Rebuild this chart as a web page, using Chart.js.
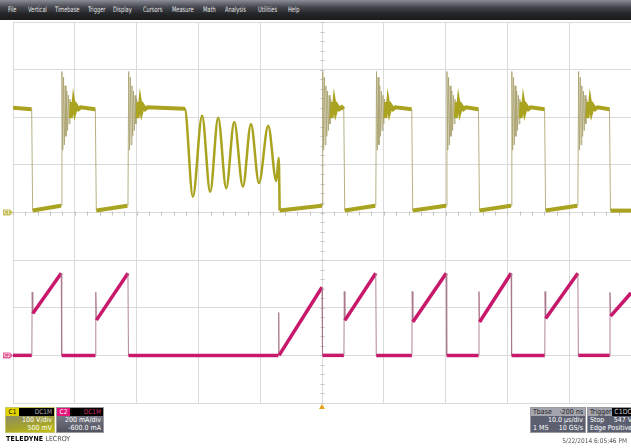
<!DOCTYPE html>
<html lang="en">
<head>
<meta charset="UTF-8">
<title>Scope capture</title>
<style>
  html, body { margin: 0; padding: 0; background: #fff; }
  body {
    position: relative; width: 631px; height: 448px; overflow: hidden;
    font-family: "DejaVu Sans Condensed", "Liberation Sans Narrow", sans-serif;
  }
  #wrap { position: absolute; left: 0; top: 0; width: 631px; height: 448px; }
  /* menu bar */
  .menu {
    position: absolute; left: 0; top: 0; width: 631px; height: 20px;
    background: linear-gradient(#8a8d95, #45484f 35%, #232427 70%, #1b1b1d);
  }
  .menu span {
    position: absolute; top: 5px; font-size: 7.5px; color: #e4e4e4;
    transform: scaleX(0.75); transform-origin: left center; white-space: nowrap;
  }
  /* channel / timebase boxes */
  .box {
    position: absolute; top: 407px; height: 26px; box-sizing: border-box;
    border: 1px solid #9a9aa0; font-size: 7px; line-height: 8px; overflow: hidden;
  }
  .hdr { height: 8px; background: #000; display: flex; }
  .tag { width: 13px; text-align: center; font-size: 6.5px; }
  .cpl { flex: 1; text-align: right; padding-right: 2px; font-size: 6.5px; }
  .body { height: 16px; color: #fff; padding: 0 2px; }
  .row { display: flex; justify-content: space-between; height: 8px; }
  .brand { position: absolute; left: 6px; top: 435px; font-size: 7px; color: #000; }
  .brand b { letter-spacing: 0.2px; }
  .brand span { color: #444; }
  .stamp { position: absolute; right: 4px; top: 437px; font-size: 6.5px; color: #555; }
</style>
<script src="https://cdn.jsdelivr.net/npm/chart.js@4.4.1/dist/chart.umd.min.js"></script>
</head>
<body>
<div id="wrap"><canvas id="scope" width="631" height="448"></canvas></div>

<div class="menu">
  <span style="left:8px">File</span>
  <span style="left:28px">Vertical</span>
  <span style="left:55px">Timebase</span>
  <span style="left:88px">Trigger</span>
  <span style="left:113px">Display</span>
  <span style="left:143px">Cursors</span>
  <span style="left:172px">Measure</span>
  <span style="left:203px">Math</span>
  <span style="left:225px">Analysis</span>
  <span style="left:258px">Utilities</span>
  <span style="left:288px">Help</span>
</div>

<div class="box" style="left:5px;width:50px;border-color:#c9c36a">
  <div class="hdr"><span class="tag" style="background:#e2d400;color:#000">C1</span><span class="cpl" style="color:#b0b0b0">DC1M</span></div>
  <div class="body" style="background:linear-gradient(170deg,#8d8d66,#a4a22e 55%,#c4c214)">
    <div class="row"><span></span><span>100 V/div</span></div>
    <div class="row"><span></span><span>500 mV</span></div>
  </div>
</div>
<div class="box" style="left:56px;width:48px">
  <div class="hdr"><span class="tag" style="background:#e3157c;color:#fff">C2</span><span class="cpl" style="color:#d0306a">DC1M</span></div>
  <div class="body" style="background:linear-gradient(#747684,#50525e)">
    <div class="row"><span></span><span>200 mA/div</span></div>
    <div class="row"><span></span><span>-600.0 mA</span></div>
  </div>
</div>
<div class="brand"><b>TELEDYNE</b> <span>LECROY</span></div>

<div class="box" style="left:530px;width:56px">
  <div class="row" style="background:#a3a4ad;color:#222;padding:0 2px"><span>Tbase</span><span>-200 ns</span></div>
  <div class="body" style="background:#5b5f70">
    <div class="row"><span></span><span>10.0 µs/div</span></div>
    <div class="row"><span>1 MS</span><span>10 GS/s</span></div>
  </div>
</div>
<div class="box" style="left:587px;width:48px">
  <div class="row" style="background:#a3a4ad;color:#222;padding-left:2px"><span>Trigger</span><span style="background:#000;color:#ccc;padding:0 2px">C1DC</span></div>
  <div class="body" style="background:#5b5f70">
    <div class="row"><span>Stop</span><span>547 V</span></div>
    <div class="row"><span>Edge</span><span>Positive</span></div>
  </div>
</div>
<div class="stamp">5/22/2014 6:05:46 PM</div>

<script>
    // screen: 10 µs/div horizontally, trigger at centre
    const timeRange = [-50, 50];
    const ch1Range = [-400, 400];     // C1: 100 V/div
    const ch2Range = [-200, 1400];    // C2: 200 mA/div, offset -600 mA

    // C1 (yellow) switch-node voltage, edges (µs)
    const ch1FallUs = [-46.9, -36.6, 3.6, 14.6, 25.4, 36.1, 46.6];
    const ch1RiseUs = [-42.2, -31.4, 0, 8.7, 20.1, 30.6, 41.4];
    const ch1HighV = [220, 217];      // plateau start / end
    const ch1LowV = [4, 14];          // floor start / end

    // ringing after each rising edge (µs after edge, V)
    const ringDtUs = [0, 0.12, 0.25, 0.38, 0.51, 0.64, 0.77, 0.9, 1.03, 1.16, 1.29, 1.42, 1.55, 1.7, 1.85, 2.0, 2.2, 2.45, 2.8, 3.2];
    const ringV = [14, 296, 131, 284, 142, 266, 160, 255, 172, 246, 186, 238, 198, 232, 206, 228, 212, 224, 217, 221];

    // burst of oscillation in the middle of the record
    const ch1SineUs = [-23.2, -22.2, -20.9, -19.4, -18.1, -16.8, -15.5, -14.2, -12.8, -11.5, -10.2, -8.7, -7.4, -7.0, -6.85];
    const ch1SineV = [219, 218, 33, 203, 43, 199, 51, 190, 54, 186, 62, 182, 66, 115, 4];

    // C2 (magenta) inductor current, one ramp per on-time
    const ch2OnUs = [-46.9, -36.6, 3.6, 14.6, 25.4, 36.1, 46.6];
    const ch2OffUs = [-42.2, -31.4, 8.7, 20.1, 30.6, 41.4, 50];
    const ch2SpikeMa = [265, 265, 268, 268, 268, 268, 264];
    const ch2RampFromMa = [176, 148, 147, 140, 140, 155, 165];
    const ch2RampToMa = [345, 345, 345, 345, 345, 345, 262];
    // soft start of the current after the oscillation burst
    const ch2SoftUs = [-7.05, -7.0, -6.95, 0, 0.08];
    const ch2SoftMa = [0, 180, 0, 286, 0];

    const yellow = '#a9a31f';
    const yellowEdge = 'rgba(170,162,110,0.85)';
    const magenta = '#c8186c';
    const magentaEdge = 'rgba(170,120,140,0.9)';

    function ch1Points() {
        const pts = [{ x: timeRange[0], y: ch1HighV[0] }, { x: timeRange[1], y: ch1LowV[0] }];
        ch1FallUs.forEach(t => {
            pts.push({ x: t - 0.08, y: ch1HighV[1] }, { x: t + 0.08, y: ch1LowV[0] });
        });
        ch1RiseUs.forEach(t => {
            pts.push({ x: t - 0.08, y: ch1LowV[1] });
            ringDtUs.forEach((d, i) => pts.push({ x: t + d + 0.001, y: ringV[i] }));
        });
        // the burst is drawn by its own dataset; leave a gap here
        pts.push({ x: ch1SineUs[1], y: ch1SineV[1] });
        pts.push({ x: ch1SineUs[1] + 0.3, y: null });
        pts.push({ x: ch1SineUs[ch1SineUs.length - 1], y: ch1LowV[0] });
        return pts.sort((a, b) => a.x - b.x);
    }

    function ch2Points() {
        const pts = [{ x: timeRange[0], y: 0 }];
        ch2OnUs.forEach((t, i) => {
            pts.push({ x: t - 0.05, y: 0 }, { x: t, y: ch2SpikeMa[i] },
                     { x: t + 0.1, y: ch2RampFromMa[i] }, { x: ch2OffUs[i], y: ch2RampToMa[i] });
            if (ch2OffUs[i] < timeRange[1]) pts.push({ x: ch2OffUs[i] + 0.08, y: 0 });
        });
        ch2SoftUs.forEach((t, i) => pts.push({ x: t, y: ch2SoftMa[i] }));
        return pts.sort((a, b) => a.x - b.x);
    }

    // near-vertical pieces of the trace are thin and pale like on the scope
    function steep(ctx) {
        const dx = Math.abs(ctx.p1.x - ctx.p0.x), dy = Math.abs(ctx.p1.y - ctx.p0.y);
        return dy > 6 && dy > 20 * dx;
    }

    const scopeDecor = {
        id: 'scopeDecor',
        beforeDatasetsDraw(chart) {
            const { ctx, scales: { x, yV } } = chart;
            const cx = Math.round(x.getPixelForValue(0)) + 0.5;
            const cy = Math.round(yV.getPixelForValue(0)) + 0.5;
            ctx.save();
            ctx.strokeStyle = '#c4c4c4';
            ctx.lineWidth = 1;
            ctx.beginPath();
            for (let t = timeRange[0]; t <= timeRange[1]; t += 2) {
                const px = Math.round(x.getPixelForValue(t)) + 0.5;
                ctx.moveTo(px, cy - 2); ctx.lineTo(px, cy + 2);
            }
            for (let v = ch1Range[0]; v <= ch1Range[1]; v += 20) {
                const py = Math.round(yV.getPixelForValue(v)) + 0.5;
                ctx.moveTo(cx - 2, py); ctx.lineTo(cx + 2, py);
            }
            ctx.stroke();
            ctx.restore();
        },
        afterDatasetsDraw(chart) {
            const { ctx, scales: { x, yV, yI }, chartArea } = chart;
            ctx.save();
            // channel ground markers
            const tagAt = (y, color, label) => {
                ctx.fillStyle = color;
                ctx.beginPath();
                ctx.moveTo(3, y - 3); ctx.lineTo(10, y - 3); ctx.lineTo(13, y); ctx.lineTo(10, y + 3); ctx.lineTo(3, y + 3);
                ctx.closePath(); ctx.fill();
                ctx.fillStyle = '#fff';
                ctx.font = '5px "DejaVu Sans Condensed", sans-serif';
                ctx.textBaseline = 'middle';
                ctx.fillText(label, 4, y + 0.5);
            };
            tagAt(yV.getPixelForValue(0), '#c6c05a', 'C1');
            tagAt(yI.getPixelForValue(0), '#e0609a', 'C2');
            // trigger position
            const tx = x.getPixelForValue(0);
            const by = chartArea.bottom;
            ctx.fillStyle = '#e8a020';
            ctx.beginPath();
            ctx.moveTo(tx, by + 1); ctx.lineTo(tx + 3, by + 6); ctx.lineTo(tx - 3, by + 6);
            ctx.closePath(); ctx.fill();
            ctx.restore();
        }
    };

    const gridStyle = { color: '#dadada', lineWidth: 1, drawTicks: false };

    new Chart(document.getElementById('scope').getContext('2d'), {
        type: 'line',
        data: {
            datasets: [
                {
                    label: 'C2',
                    yAxisID: 'yI',
                    data: ch2Points(),
                    borderColor: magenta,
                    borderWidth: 3.5,
                    pointRadius: 0,
                    tension: 0,
                    segment: {
                        borderColor: ctx => steep(ctx) ? magentaEdge : undefined,
                        borderWidth: ctx => steep(ctx) ? 1 : undefined
                    }
                },
                {
                    label: 'C1',
                    yAxisID: 'yV',
                    data: ch1Points(),
                    borderColor: yellow,
                    borderWidth: 4,
                    pointRadius: 0,
                    tension: 0,
                    spanGaps: false,
                    segment: {
                        borderColor: ctx => steep(ctx) ? yellowEdge : undefined,
                        borderWidth: ctx => steep(ctx) ? 1 : undefined
                    }
                },
                {
                    label: 'C1 burst',
                    yAxisID: 'yV',
                    data: ch1SineUs.map((t, i) => ({ x: t, y: ch1SineV[i] })),
                    borderColor: yellow,
                    borderWidth: 2.5,
                    pointRadius: 0,
                    cubicInterpolationMode: 'monotone'
                }
            ]
        },
        options: {
            responsive: false,
            animation: false,
            events: [],
            layout: { padding: { left: 13, top: 22, right: 0, bottom: 45 } },
            plugins: { legend: { display: false }, tooltip: { enabled: false } },
            scales: {
                x: {
                    type: 'linear', min: timeRange[0], max: timeRange[1],
                    ticks: { display: false, stepSize: 10 },
                    grid: gridStyle, border: { display: false }
                },
                yV: {
                    type: 'linear', position: 'left', min: ch1Range[0], max: ch1Range[1],
                    ticks: { display: false, stepSize: 100 },
                    grid: gridStyle, border: { display: false }
                },
                yI: {
                    type: 'linear', display: false, min: ch2Range[0], max: ch2Range[1]
                }
            }
        },
        plugins: [scopeDecor]
    });
</script>
</body>
</html>
